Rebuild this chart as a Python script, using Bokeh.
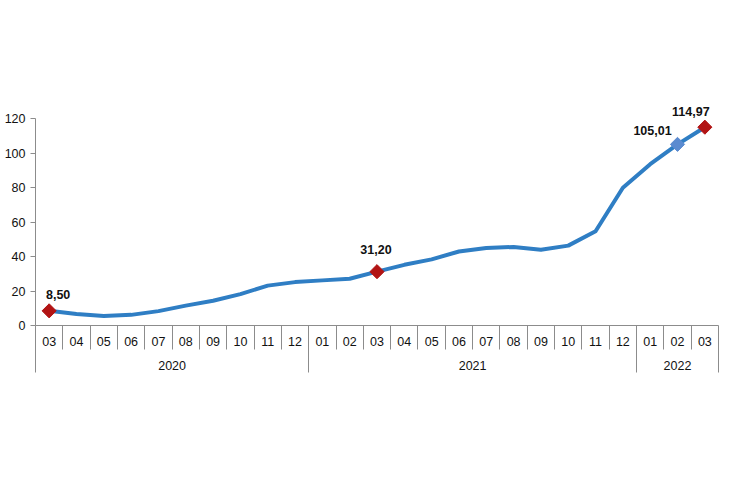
import numpy as np
from bokeh.plotting import figure
from bokeh.models import (ColumnDataSource, FixedTicker, LinearAxis, LabelSet, Range1d)
from bokeh.core.properties import value
from bokeh.embed import file_html
from bokeh.resources import INLINE

# ---- data ----
months = ["03", "04", "05", "06", "07", "08", "09", "10", "11", "12",
          "01", "02", "03", "04", "05", "06", "07", "08", "09", "10", "11", "12",
          "01", "02", "03"]
years = ["2020"] * 10 + ["2021"] * 12 + ["2022"] * 3
values = [8.50, 6.71, 5.53, 6.17, 8.33, 11.53, 14.33, 18.20, 23.11, 25.15,
          26.16, 27.09, 31.20, 35.17, 38.33, 42.89, 44.92, 45.52, 43.96, 46.31,
          54.62, 79.89, 93.53, 105.01, 114.97]
highlight_idx = [0, 12, 23, 24]
yticks = [0, 20, 40, 60, 80, 100, 120]

FONT = "Liberation Sans"
LINE_COLOR = "#2F7EC4"
RED = "#B21414"
LIGHT_BLUE = "#5B8BD0"
GRAY = "#8C8C8C"
TXT = "#111111"

n = len(values)
xs = list(range(n))

W, H = 726, 482
p = figure(width=W, height=H, output_backend="svg", toolbar_location=None,
           x_range=Range1d(-0.5, n - 0.5), y_range=Range1d(0, 137.4),
           x_axis_type=None, y_axis_location="left",
           min_border_left=35, min_border_right=W - 718, min_border_top=88,
           min_border_bottom=H - 325)
p.outline_line_color = None
p.xgrid.visible = False
p.ygrid.visible = False
p.background_fill_color = "white"
p.border_fill_color = "white"

# y axis
ya = p.yaxis[0]
ya.ticker = FixedTicker(ticks=yticks, minor_ticks=[])
ya.bounds = (0, 120)
ya.axis_line_color = GRAY
ya.major_tick_line_color = GRAY
ya.major_tick_out = 5
ya.major_tick_in = 0
ya.minor_tick_line_color = None
ya.major_label_text_font = FONT
ya.major_label_text_font_size = "12.5px"
ya.major_label_text_color = TXT
ya.major_label_standoff = 5

# month axis (separators drawn outward via negative tick_in)
boundaries = [i - 0.5 for i in range(n + 1)]
xa = LinearAxis(ticker=FixedTicker(ticks=xs, minor_ticks=boundaries))
xa.major_label_overrides = {i: m for i, m in enumerate(months)}
xa.axis_line_color = GRAY
xa.major_tick_line_color = None
xa.major_tick_out = 0
xa.major_tick_in = 0
xa.minor_tick_line_color = GRAY
xa.minor_tick_out = 0
xa.minor_tick_in = -24
xa.major_label_text_font = FONT
xa.major_label_text_font_size = "12.5px"
xa.major_label_text_color = TXT
xa.major_label_standoff = 11
p.add_layout(xa, "below")

# year axis
year_names = []
year_start = []
for i, y in enumerate(years):
    if not year_names or year_names[-1] != y:
        year_names.append(y)
        year_start.append(i)
year_end = year_start[1:] + [n]
year_centers = [(s + e - 1) / 2 for s, e in zip(year_start, year_end)]
year_bounds = [s - 0.5 for s in year_start] + [n - 0.5]
ya2 = LinearAxis(ticker=FixedTicker(ticks=year_centers, minor_ticks=year_bounds))
ya2.major_label_overrides = {c: y for c, y in zip(year_centers, year_names)}
ya2.axis_line_color = None
ya2.major_tick_line_color = None
ya2.major_tick_out = 0
ya2.major_tick_in = 0
ya2.minor_tick_line_color = GRAY
ya2.minor_tick_out = 0
ya2.minor_tick_in = -24
ya2.major_label_text_font = FONT
ya2.major_label_text_font_size = "12.5px"
ya2.major_label_text_color = TXT
ya2.major_label_standoff = 12
p.add_layout(ya2, "below")

# line
src = ColumnDataSource(dict(x=xs, y=values))
p.line("x", "y", source=src, line_color=LINE_COLOR, line_width=4, line_join="round")

# highlighted markers
hx = [xs[i] for i in highlight_idx]
hy = [values[i] for i in highlight_idx]
hcol = [LIGHT_BLUE if i == 23 else RED for i in highlight_idx]
htxt = [f"{values[i]:.2f}".replace(".", ",") for i in highlight_idx]
xoff = [9, -1, -25, -14]
yoff = [16, 22, 14, 16]
hsrc = ColumnDataSource(dict(x=hx, y=hy, c=hcol, t=htxt, xo=xoff, yo=yoff))
p.scatter("x", "y", source=hsrc, marker="square", size=10, angle=np.pi / 4,
          fill_color="c", line_color="c")

labels = LabelSet(x="x", y="y", text="t", source=hsrc, x_offset="xo", y_offset="yo",
                  text_font=value(FONT), text_font_size="12.5px",
                  text_font_style="bold", text_color=TXT,
                  text_align="center", text_baseline="middle")
p.add_layout(labels)

open("out.html", "w").write(file_html(p, INLINE))
